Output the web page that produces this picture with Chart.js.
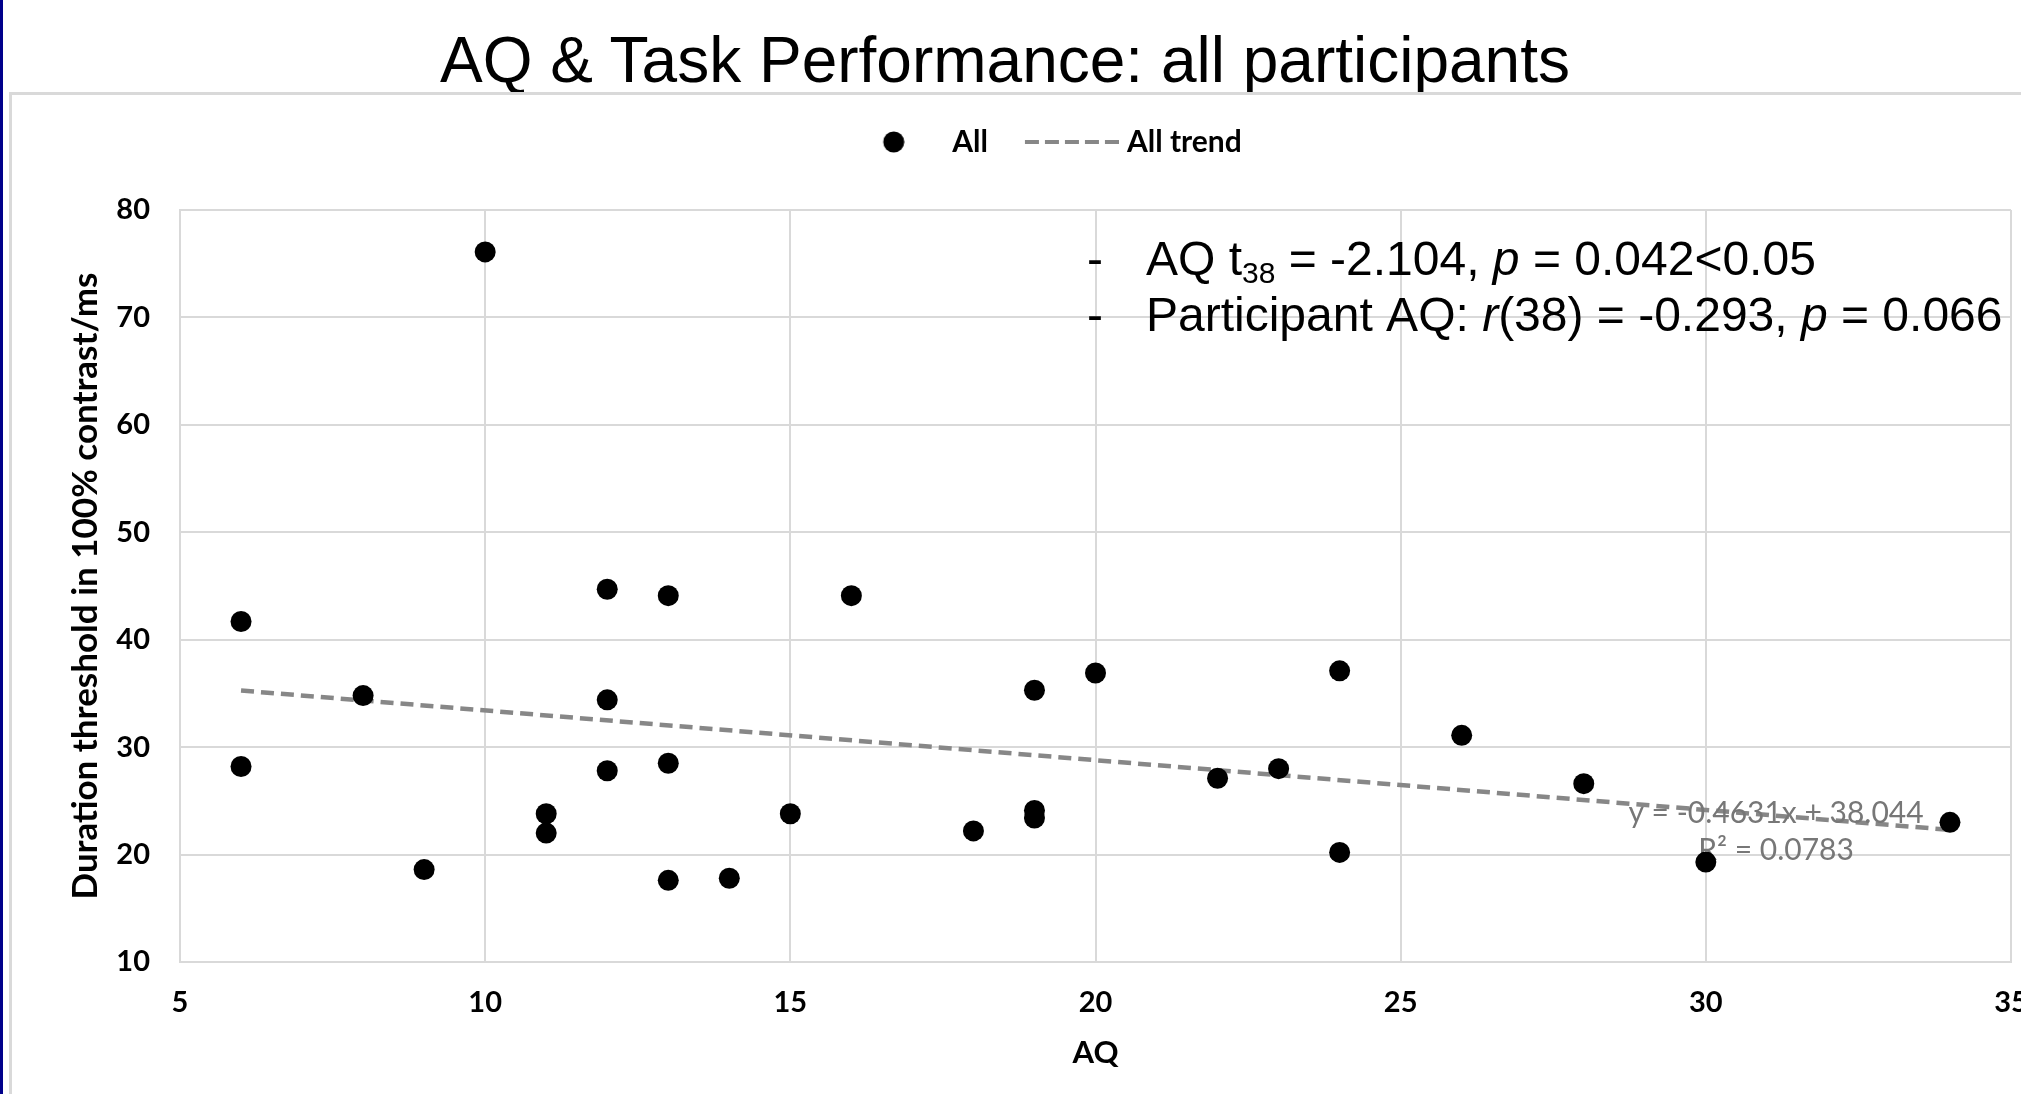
<!DOCTYPE html>
<html>
<head>
<meta charset="utf-8">
<title>AQ & Task Performance</title>
<script src="https://cdn.jsdelivr.net/npm/chart.js@4.4.0/dist/chart.umd.min.js"></script>
<style>
  html, body { margin: 0; padding: 0; background: #fff; }
  body { width: 2021px; height: 1094px; overflow: hidden; position: relative; }
  #navy { position: absolute; left: 0; top: 0; width: 3px; height: 1094px; background: #00008b; }
  #slideTitle {
    position: absolute; left: 0; top: 25px; width: 2010px;
    text-align: center; font-family: "Liberation Sans", Arial, sans-serif;
    font-size: 64px; line-height: 70px; color: #000;
  }
  #frame {
    position: absolute; left: 9px; top: 92px; width: 2100px; height: 1100px;
    border-top: 3px solid #d9d9d9; border-left: 3px solid #d9d9d9;
  }
  #chart { position: absolute; left: 12px; top: 91px; }
</style>
</head>
<body>
<div id="navy"></div>
<div id="slideTitle">AQ &amp; Task Performance: all participants</div>
<div id="frame"></div>
<canvas id="chart" width="2060" height="1003"></canvas>
<script>
// data
var aqValues = [6, 6, 8, 9, 10, 11, 11, 12, 12, 12, 13, 13, 13, 14, 15, 16, 18, 19, 19, 19, 20, 22, 23, 24, 24, 26, 28, 30, 34];
var thresholdValues = [41.7, 28.2, 34.8, 18.6, 76.1, 23.8, 22.0, 44.7, 34.4, 27.8, 44.1, 28.5, 17.6, 17.8, 23.8, 44.1, 22.2, 35.3, 24.1, 23.4, 36.9, 27.1, 28.0, 37.1, 20.2, 31.1, 26.6, 19.3, 23.0];
var trendAQ = [6, 34];
var trendThreshold = [35.27, 22.30];
var xTicks = [5, 10, 15, 20, 25, 30, 35];
var yTicks = [10, 20, 30, 40, 50, 60, 70, 80];
var seriesNames = ["All", "All trend"];
var axisTitles = ["AQ", "Duration threshold in 100% contrast/ms"];
var trendLabel = ["y = -0.4631x + 38.044", "R\u00b2 = 0.0783"];

Chart.defaults.font.family = "Lato";

var tickFont = { family: "Lato", size: 29, weight: "bold" };
var gridColor = "#d9d9d9";
var trendColor = "#878787";
var trendDash = [13, 7];

// legend markers: drawn slightly off-centre in their box so spacing matches Excel
var dotIcon = document.createElement("canvas");
dotIcon.width = 29;
dotIcon.height = 22;
var dctx = dotIcon.getContext("2d");
dctx.fillStyle = "#000";
dctx.beginPath();
dctx.arc(18, 11, 10.5, 0, Math.PI * 2);
dctx.fill();

var dashIcon = document.createElement("canvas");
dashIcon.width = 108;
dashIcon.height = 6;
var lctx = dashIcon.getContext("2d");
lctx.strokeStyle = trendColor;
lctx.lineWidth = 4;
lctx.setLineDash([14, 6]);
lctx.beginPath();
lctx.moveTo(14, 3);
lctx.lineTo(108, 3);
lctx.stroke();

// stats lines, split in runs for italics / subscript
var statLines = [
  [{ t: "AQ t" }, { t: "38", sub: true }, { t: " = -2.104, " }, { t: "p", it: true }, { t: " = 0.042<0.05" }],
  [{ t: "Participant AQ: " }, { t: "r", it: true }, { t: "(38) = -0.293, " }, { t: "p", it: true }, { t: " = 0.066" }]
];

function runFont(run, size) {
  var s = run.sub ? Math.round(size * 0.62) : size;
  return (run.it ? "italic " : "") + s + 'px "Liberation Sans"';
}

function drawStatLine(ctx, runs, x, baseline, size) {
  ctx.textAlign = "left";
  ctx.font = size + 'px "Liberation Sans"';
  ctx.fillText("-", x - 59, baseline);
  runs.forEach(function (r) {
    ctx.font = runFont(r, size);
    ctx.fillText(r.t, x, baseline + (r.sub ? size * 0.16 : 0));
    x += ctx.measureText(r.t).width;
  });
}

var textLayer = {
  id: "textLayer",
  beforeDatasetDraw: function (chart, args) {
    // equation sits over the trend line, under the markers
    if (args.index !== 0) return;
    var ctx = chart.ctx;
    var sx = chart.scales.x, sy = chart.scales.y;
    ctx.save();
    ctx.fillStyle = "#777";
    ctx.font = "30px Lato";
    ctx.textAlign = "center";
    ctx.textBaseline = "middle";
    var ex = sx.getPixelForValue(31.15);
    ctx.fillText(trendLabel[0], ex, sy.getPixelForValue(23.8));
    ctx.fillText(trendLabel[1], ex, sy.getPixelForValue(20.4));
    ctx.restore();
  },
  afterDraw: function (chart) {
    var ctx = chart.ctx;
    var area = chart.chartArea;
    ctx.save();
    ctx.fillStyle = "#000";
    ctx.textBaseline = "alphabetic";
    drawStatLine(ctx, statLines[0], area.left + 966, area.top + 65, 48);
    drawStatLine(ctx, statLines[1], area.left + 966, area.top + 121, 48);
    ctx.restore();
  }
};

var ctx = document.getElementById("chart").getContext("2d");
var myChart = new Chart(ctx, {
  type: "scatter",
  data: {
    datasets: [
      {
        label: seriesNames[0],
        data: aqValues.map(function (x, i) { return { x: x, y: thresholdValues[i] }; }),
        backgroundColor: "#000",
        borderColor: "#000",
        pointRadius: 10.5,
        pointBorderWidth: 0,
        pointStyle: "circle"
      },
      {
        type: "line",
        label: seriesNames[1],
        data: trendAQ.map(function (x, i) { return { x: x, y: trendThreshold[i] }; }),
        borderColor: trendColor,
        borderWidth: 4.5,
        borderDash: trendDash,
        pointRadius: 0,
        pointStyle: "line",
        fill: false
      }
    ]
  },
  options: {
    responsive: false,
    animation: false,
    events: [],
    layout: { padding: { left: 62, right: 61, top: 6, bottom: 0 } },
    plugins: {
      tooltip: { enabled: false },
      legend: {
        position: "top",
        labels: {
          usePointStyle: true,
          pointStyleWidth: 94,
          padding: 30,
          color: "#000",
          font: { family: "Lato", size: 30, weight: "bold" },
          generateLabels: function (chart) {
            var items = Chart.defaults.plugins.legend.labels.generateLabels(chart);
            items[0].pointStyle = dotIcon;
            items[1].pointStyle = dashIcon;
            return items;
          }
        }
      },
      // empty spacer between legend and plot
      subtitle: { display: true, text: "", weight: 500, padding: 0, font: { size: 43, lineHeight: 1 } }
    },
    scales: {
      x: {
        type: "linear",
        min: xTicks[0],
        max: xTicks[xTicks.length - 1],
        ticks: { stepSize: xTicks[1] - xTicks[0], padding: 23, color: "#000", font: tickFont },
        grid: { color: gridColor, lineWidth: 2, drawTicks: false },
        border: { color: gridColor, width: 2 },
        title: {
          display: true, text: axisTitles[0], color: "#000",
          font: { family: "Lato", size: 31, weight: "bold" },
          padding: { top: 0, bottom: 22 }
        },
        afterFit: function (scale) { scale.height = 132; }
      },
      y: {
        type: "linear",
        min: yTicks[0],
        max: yTicks[yTicks.length - 1],
        ticks: { stepSize: yTicks[1] - yTicks[0], padding: 30, color: "#000", font: tickFont },
        grid: { color: gridColor, lineWidth: 2, drawTicks: false },
        border: { color: gridColor, width: 2 },
        title: {
          display: true, text: axisTitles[1], color: "#000",
          font: { family: "Lato", size: 35, weight: "bold", lineHeight: 0.67 },
          padding: { top: 0, bottom: 0 }
        },
        afterFit: function (scale) { scale.width = 106; }
      }
    }
  },
  plugins: [textLayer]
});
</script>
</body>
</html>
